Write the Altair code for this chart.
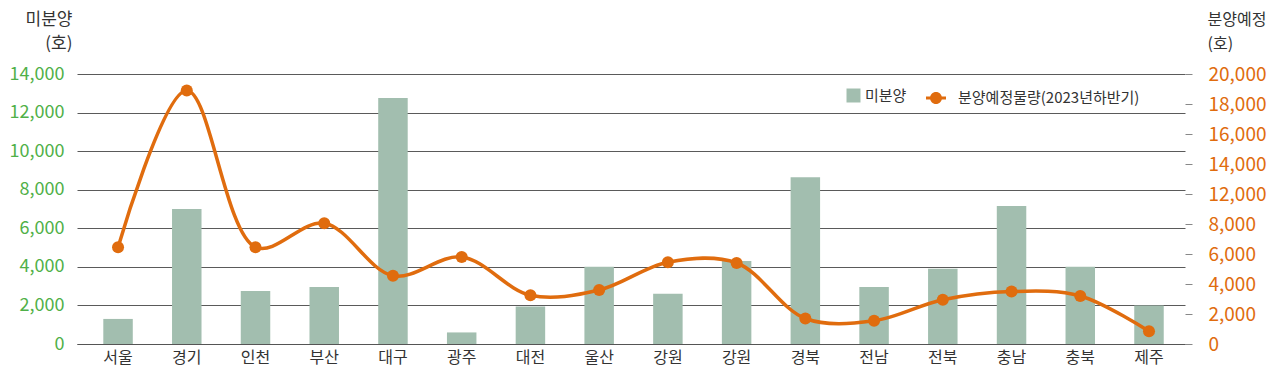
import altair as alt
import pandas as pd

regions = ["서울", "경기", "인천", "부산", "대구", "광주", "대전", "울산",
           "강원", "강원", "경북", "전남", "전북", "충남", "충북", "제주"]
unsold = [1300, 7000, 2750, 2950, 12750, 600, 1950, 4000,
          2600, 4300, 8650, 2950, 3900, 7150, 4000, 2000]
planned = [6450, 18900, 6450, 8100, 4550, 5800, 3250, 3600,
           5450, 5400, 1700, 1550, 2950, 3500, 3200, 850]
left_ticks = [0, 2000, 4000, 6000, 8000, 10000, 12000, 14000]
right_ticks = [0, 2000, 4000, 6000, 8000, 12000, 14000, 16000, 18000, 20000]
series_bar = "미분양"
series_line = "분양예정물량(2023년하반기)"

FONT = "Noto Sans CJK KR"
GREEN = "#4fb048"
ORANGE = "#e06c0e"
BAR = "#a2beaf"
TEXT = "#333333"

df = pd.DataFrame({
    "idx": list(range(len(regions))),
    "region": regions,
    "unsold": unsold,
    "planned": planned,
    "s1": series_bar,
    "s2": series_line,
})

label_expr = "[" + ",".join("'%s'" % r for r in regions) + "][datum.value]"
num_expr = "format(datum.value, ',.0f')"

x_enc = alt.X(
    "idx:O",
    title=None,
    scale=alt.Scale(paddingInner=0.571, paddingOuter=0.346, align=0.553),
    axis=alt.Axis(labelExpr=label_expr, labelAngle=0, ticks=False,
                  domainColor="#555555", domainWidth=1, labelFontSize=16,
                  labelColor=TEXT, labelPadding=5, grid=False),
)

base = alt.Chart(df).encode(x=x_enc)

bars = base.mark_bar(color=BAR).encode(
    y=alt.Y("unsold:Q",
            scale=alt.Scale(domain=[0, 14000]),
            axis=alt.Axis(values=left_ticks, labelExpr=num_expr, orient="left",
                          domain=False, ticks=False, grid=True,
                          gridColor="#5a5a5a", gridWidth=1,
                          labelColor=GREEN, labelFontSize=18, labelPadding=13,
                          title=["미분양", "(호)"], titleAngle=0,
                          titleAlign="right", titleBaseline="top",
                          titleX=-5, titleY=-63, titleFontSize=17,
                          titleFontWeight="normal", titleColor=TEXT,
                          titleLineHeight=24)),
    color=alt.Color("s1:N",
                    scale=alt.Scale(domain=[series_bar], range=[BAR]),
                    legend=alt.Legend(orient="none", legendX=769, legendY=14,
                                      title=None, symbolType="square",
                                      symbolSize=196, symbolStrokeWidth=0,
                                      labelFontSize=15, labelColor=TEXT,
                                      labelOffset=4, padding=0)),
)

y_right = alt.Y(
    "planned:Q",
    scale=alt.Scale(domain=[0, 8000, 12000, 20000], range=[270, 150, 120, 0]),
    axis=alt.Axis(values=right_ticks, labelExpr=num_expr, orient="right",
                  domain=False, ticks=True, tickSize=7, tickColor="#888888",
                  grid=False, labelColor=ORANGE, labelFontSize=19,
                  labelPadding=16,
                  title=["분양예정", "(호)"], titleAngle=0,
                  titleAlign="left", titleBaseline="top",
                  titleX=22, titleY=-63, titleFontSize=16,
                  titleFontWeight="normal", titleColor=TEXT,
                  titleLineHeight=24),
)

line_legend = alt.Legend(
    orient="none", legendX=849, legendY=14, title=None,
    symbolType="M-1,-0.15H1V0.15H-1Z M-0.6,0A0.6,0.6 0 1,1 0.6,0A0.6,0.6 0 1,1 -0.6,0Z",
    symbolSize=400, symbolFillColor=ORANGE, symbolStrokeWidth=0,
    labelFontSize=15, labelColor=TEXT, labelOffset=12, labelLimit=400,
    padding=0,
)
color_line = alt.Color("s2:N",
                       scale=alt.Scale(domain=[series_line], range=[ORANGE]),
                       legend=line_legend)

line = base.mark_line(strokeWidth=3.5, interpolate="catmull-rom").encode(
    y=y_right, color=color_line)
pts = base.mark_circle(size=145, opacity=1).encode(y=y_right, color=color_line)

chart = alt.layer(bars, alt.layer(line, pts)).resolve_scale(
    y="independent", color="independent"
).properties(
    width=1108, height=270,
    autosize=alt.AutoSizeParams(type="none"),
    padding={"left": 69, "top": 66, "right": 87, "bottom": 26},
).configure(font=FONT).configure_view(stroke=None)

chart.save("out.html", embed_options={"renderer": "svg", "actions": False})
